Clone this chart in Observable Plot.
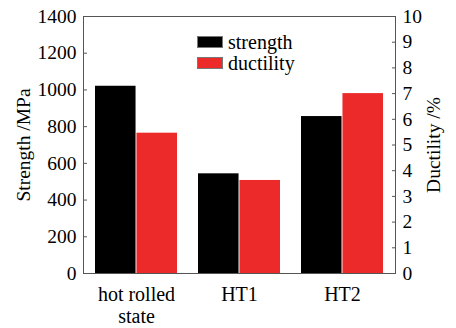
<!DOCTYPE html>
<html><head><meta charset="utf-8">
<script src="https://cdn.jsdelivr.net/npm/d3@7"></script>
<script src="https://cdn.jsdelivr.net/npm/@observablehq/plot@0.6"></script>
<style>
body{margin:0;background:#fff}
#wrap{position:relative;width:456px;height:328px;font-family:"Liberation Serif",serif}
.leg{position:absolute;left:197px;top:31.5px;font-family:"Liberation Serif",serif;font-size:20px;line-height:21px;color:#000}
.leg .row{display:flex;align-items:center;height:21px;line-height:21px}
.sw{display:inline-block;width:26px;height:12.5px;margin-right:5px;border:1px solid #777;box-sizing:border-box}
</style></head><body>
<div id="wrap"></div>
<script>
const categories = ["hot rolled state", "HT1", "HT2"];
const strength = [1020, 543, 855];
const ductility = [5.46, 3.62, 7.0];
const strengthTicks = [0, 200, 400, 600, 800, 1000, 1200, 1400];
const ductilityTicks = [0, 1, 2, 3, 4, 5, 6, 7, 8, 9, 10];
const seriesNames = ["strength", "ductility"];
const seriesColors = ["#000000", "#ec2a2a"];

const W = 456, H = 328, mL = 83, mR = 61, mT = 16, mB = 55;
const pIn = 0.2, pOut = 0.105;
const bw = (W - mL - mR) / (categories.length - pIn + 2 * pOut) * (1 - pIn);
const half = bw / 2;
const ratio = 1400 / 10;
const ff = "'Liberation Serif', serif";

const rows = categories.map((c, i) => ({cat: c, s: strength[i], d: ductility[i]}));

const chart = Plot.plot({
  width: W, height: H,
  marginLeft: mL, marginRight: mR, marginTop: mT, marginBottom: mB,
  style: {fontFamily: ff, fontSize: "19.5px", color: "#000", background: "#fff"},
  x: {domain: categories, paddingInner: pIn, paddingOuter: pOut},
  y: {domain: [0, 1400]},
  marks: [
    Plot.barY(rows, {x: "cat", y: "s", fill: seriesColors[0], insetRight: half}),
    Plot.barY(rows, {x: "cat", y: d => d.d * ratio, fill: seriesColors[1], insetLeft: half}),
    Plot.frame({stroke: "#555", strokeWidth: 1}),
    Plot.axisY(strengthTicks, {anchor: "left", tickSize: 4, dx: 4, stroke: "#555", fill: "none", label: null}),
    Plot.axisY(strengthTicks, {anchor: "left", tickSize: 0, tickPadding: 7,
      tickFormat: v => String(v), fontSize: 19.5, fontFamily: ff,
      label: "Strength /MPa", labelAnchor: "center", labelOffset: 67, labelArrow: false}),
    Plot.axisY(ductilityTicks.map(t => t * ratio), {anchor: "right", tickSize: 4, dx: -4, stroke: "#555", fill: "none", label: null}),
    Plot.axisY(ductilityTicks.map(t => t * ratio), {anchor: "right", tickSize: 0, tickPadding: 7,
      tickFormat: v => String(Math.round(v / ratio)), fontSize: 19.5, fontFamily: ff,
      label: "Ductility /%", labelAnchor: "center", labelOffset: 44, labelArrow: false}),
    Plot.axisX({anchor: "bottom", tickSize: 0, tickPadding: 12, label: null, fontSize: 20, fontFamily: ff,
      lineHeight: 1.1,
      tickFormat: c => c === "hot rolled state" ? "hot rolled\nstate" : c})
  ]
});
const wrap = document.getElementById("wrap");
wrap.appendChild(chart);
const leg = document.createElement("div");
leg.className = "leg";
seriesNames.forEach((n, i) => {
  const r = document.createElement("div");
  r.className = "row";
  const sw = document.createElement("span");
  sw.className = "sw";
  sw.style.background = seriesColors[i];
  r.appendChild(sw);
  r.appendChild(document.createTextNode(n));
  leg.appendChild(r);
});
wrap.appendChild(leg);
</script>
</body></html>
